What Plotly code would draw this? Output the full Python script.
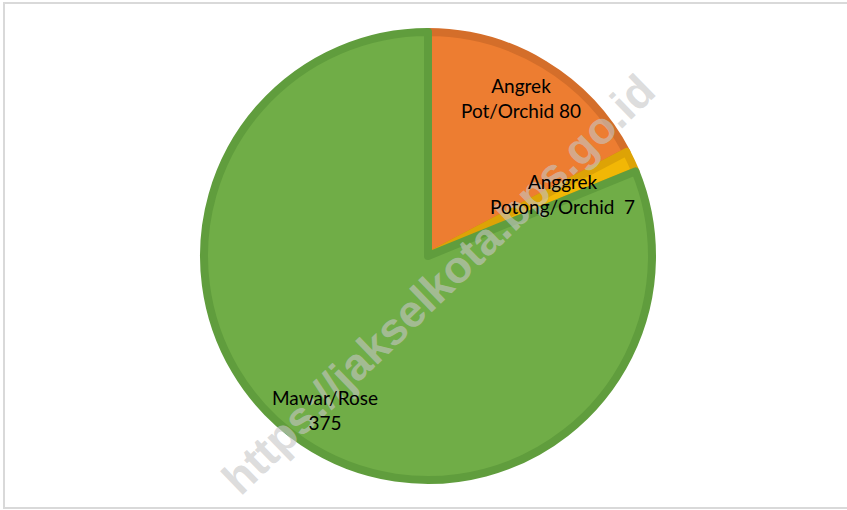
import plotly.graph_objects as go

# Flower production by type
categories = ["Angrek Pot/Orchid", "Anggrek Potong/Orchid", "Mawar/Rose"]
values = [80, 7, 375]
label_lines = [["Angrek", "Pot/Orchid"], ["Anggrek", "Potong/Orchid "], ["Mawar/Rose"]]

fill_colors = ["#ED7D31", "#F2B705", "#70AD47"]
edge_colors = ["#D46E2A", "#DDA306", "#609D3D"]

fig = go.Figure(
    go.Pie(
        labels=categories,
        values=values,
        sort=False,
        direction="clockwise",
        rotation=0,
        textinfo="none",
        hoverinfo="label+value",
        marker=dict(colors=fill_colors, line=dict(color=edge_colors, width=8)),
        domain=dict(x=[(428 - 224) / 847, (428 + 224) / 847],
                    y=[(254 - 224) / 510, (254 + 224) / 510]),
        showlegend=False,
    )
)

annotations = []

# site watermark across the chart (drawn beneath the data labels)
annotations.append(dict(
    x=438 / 847, y=1 - 284 / 510, xref="paper", yref="paper",
    text="<b>https://jakselkota.bps.go.id</b>", showarrow=False, textangle=-44,
    font=dict(family="Liberation Sans", size=45, color="rgba(198,198,198,0.62)"),
    xanchor="center", yanchor="middle",
))

# data labels placed inside each slice
label_pos = [(521, 98), (562, 194), (325, 410)]
for lines, val, (px, py) in zip(label_lines, values, label_pos):
    if len(lines) == 1:
        txt = f"{lines[0]}<br>{val}"
    else:
        txt = f"{lines[0]}<br>{lines[1]} {val}"
    annotations.append(dict(
        x=px / 847, y=1 - py / 510, xref="paper", yref="paper",
        text=txt, showarrow=False,
        font=dict(family="Lato", size=19, color="#000000"),
        xanchor="center", yanchor="middle", align="center",
    ))

fig.update_layout(
    width=847, height=510,
    margin=dict(l=0, r=0, t=0, b=0),
    paper_bgcolor="#FFFFFF",
    annotations=annotations,
    shapes=[dict(type="rect", xref="paper", yref="paper",
                 x0=4 / 847, x1=1.01, y0=1 - 508 / 510, y1=1 - 3 / 510,
                 line=dict(color="#D9D9D9", width=2), layer="below")],
)

fig.write_html("out.html")
